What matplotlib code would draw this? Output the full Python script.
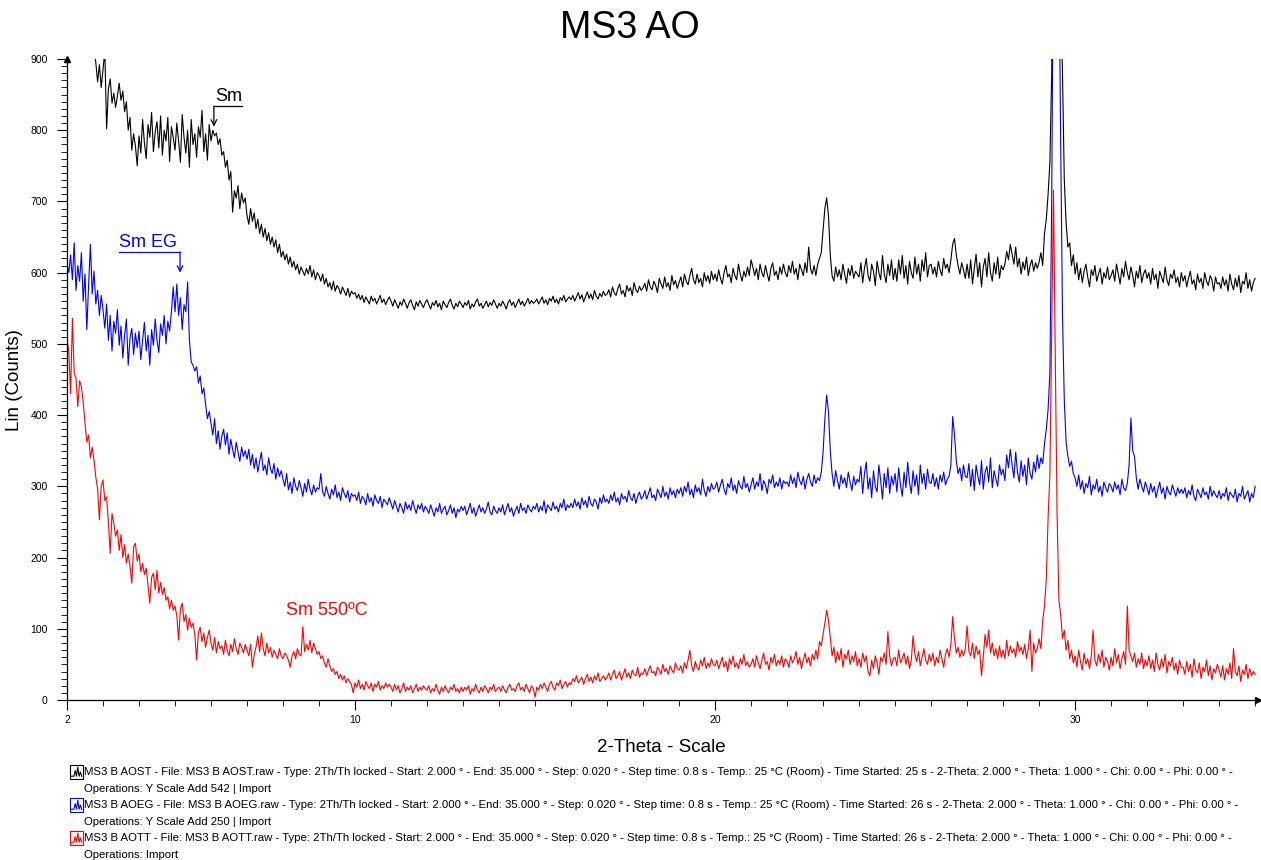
import matplotlib
matplotlib.use("Agg")

import matplotlib.pyplot as plt
import matplotlib.patches as mpatches
from matplotlib.lines import Line2D
import numpy as np

plt.rcParams["font.family"] = ["Liberation Sans", "DejaVu Sans"]

# ── Scan grid (values every 0.05 deg 2-theta) ──────────────────────────────────
TWO_THETA_START = 2.0
TWO_THETA_STEP = 0.05

# MS3 B AOST (already shifted: Y Scale Add 542), one row per degree
AOST = [
    1020, 1005, 1012, 990, 998, 985, 992, 970, 978, 962, 968, 955, 948, 940, 932, 918, 895, 868, 892, 860,  # 2
    885, 912, 802, 858, 872, 838, 852, 832, 848, 866, 842, 855, 826, 840, 800, 818, 772, 795, 778, 750,     # 3
    792, 768, 815, 782, 760, 808, 790, 825, 770, 798, 812, 775, 820, 765, 800, 785, 818, 756, 805, 790,     # 4
    772, 810, 785, 755, 822, 790, 768, 800, 748, 815, 780, 795, 762, 805, 790, 828, 770, 795, 758, 808,     # 5
    785, 800, 792, 796, 780, 788, 765, 770, 748, 758, 730, 742, 685, 715, 705, 722, 690, 712, 698, 705,     # 6
    680, 668, 690, 672, 684, 662, 675, 655, 668, 650, 662, 645, 656, 640, 650, 636, 646, 628, 640, 622,     # 7
    630, 618, 626, 612, 622, 608, 616, 604, 612, 598, 608, 602, 596, 606, 598, 610, 594, 604, 590, 600,     # 8
    596, 588, 598, 584, 592, 580, 586, 576, 588, 574, 582, 578, 570, 580, 574, 568, 578, 566, 574, 570,     # 9
    572, 564, 570, 562, 568, 558, 566, 561, 556, 567, 560, 564, 556, 562, 568, 558, 563, 555, 561, 566,     # 10
    560, 553, 562, 556, 550, 559, 554, 563, 557, 550, 558, 562, 554, 548, 559, 553, 561, 556, 551, 558,     # 11
    562, 555, 549, 558, 554, 561, 552, 557, 548, 560, 555, 551, 558, 563, 554, 549, 557, 552, 560, 556,     # 12
    551, 558, 554, 561, 549, 556, 552, 559, 563, 553, 557, 550, 555, 560, 552, 558, 554, 562, 556, 550,     # 13
    557, 553, 560, 555, 549, 558, 562, 554, 559, 551, 557, 563, 555, 560, 553, 558, 564, 556, 561, 557,     # 14
    559, 563, 556, 561, 566, 557, 562, 555, 564, 560, 567, 558, 563, 556, 565, 561, 568, 559, 563, 566,     # 15
    562, 568, 560, 566, 572, 563, 569, 559, 566, 573, 564, 570, 562, 575, 567, 563, 571, 566, 574, 568,     # 16
    570, 576, 566, 580, 572, 568, 578, 584, 570, 575, 566, 582, 574, 579, 568, 586, 576, 572, 581, 575,     # 17
    579, 585, 574, 590, 580, 576, 588, 582, 572, 592, 584, 578, 594, 580, 586, 575, 596, 583, 589, 578,     # 18
    586, 594, 580, 598, 588, 583, 596, 606, 590, 584, 598, 586, 592, 580, 600, 588, 596, 585, 602, 590,     # 19
    598, 588, 604, 592, 584, 600, 610, 594, 598, 586, 606, 596, 590, 612, 598, 588, 602, 594, 608, 596,     # 20
    618, 608, 596, 606, 590, 612, 600, 594, 610, 598, 588, 606, 614, 596, 602, 590, 608, 598, 612, 600,     # 21
    594, 610, 600, 616, 598, 606, 590, 612, 604, 596, 614, 600, 636, 606, 598, 610, 596, 612, 620, 628,     # 22
    660, 690, 705, 680, 625, 596, 588, 608, 594, 604, 590, 612, 598, 585, 606, 596, 610, 592, 602, 598,     # 23
    594, 614, 586, 606, 620, 596, 588, 612, 602, 582, 616, 600, 590, 624, 598, 586, 612, 596, 618, 590,     # 24
    606, 588, 618, 598, 624, 592, 610, 584, 616, 600, 592, 622, 598, 612, 588, 618, 602, 628, 594, 610,     # 25
    612, 598, 608, 594, 616, 604, 596, 620, 606, 612, 600, 618, 640, 648, 625, 610, 598, 614, 604, 592,     # 26
    612, 592, 618, 584, 606, 626, 594, 614, 580, 608, 620, 594, 628, 600, 588, 614, 598, 622, 592, 610,     # 27
    604, 612, 630, 618, 640, 626, 612, 636, 608, 620, 598, 615, 604, 622, 596, 610, 618, 602, 614, 606,     # 28
    615, 628, 610, 655, 675, 710, 755, 880, 1150, 1300, 1250, 1100, 980, 880, 730, 670, 636, 642, 610, 625,  # 29
    598, 614, 590, 606, 586, 602, 612, 594, 580, 604, 596, 610, 588, 598, 606, 584, 600, 592, 608, 590,     # 30
    596, 604, 588, 612, 598, 584, 606, 594, 616, 600, 590, 608, 596, 580, 602, 592, 610, 586, 598, 604,     # 31
    592, 600, 584, 606, 590, 598, 578, 602, 594, 586, 608, 590, 582, 598, 592, 604, 586, 594, 580, 600,     # 32
    588, 596, 580, 592, 602, 584, 590, 576, 598, 586, 592, 578, 600, 588, 582, 596, 590, 574, 594, 584,     # 33
    586, 578, 594, 582, 590, 574, 598, 584, 576, 592, 580, 596, 572, 588, 584, 600, 578, 590, 574, 586,     # 34
    592,                                                                                                    # 35
]

# MS3 B AOEG (already shifted: Y Scale Add 250)
AOEG = [
    612, 600, 625, 590, 642, 575, 610, 588, 628, 560, 598, 520, 582, 640, 570, 602, 556, 575, 540, 568,     # 2
    548, 522, 556, 505, 540, 490, 532, 515, 548, 498, 525, 480, 512, 535, 470, 508, 522, 485, 515, 495,     # 3
    518, 478, 505, 530, 490, 512, 470, 520, 498, 535, 505, 488, 528, 512, 540, 500, 532, 518, 545, 580,     # 4
    545, 584, 540, 565, 520, 555, 545, 587, 505, 475, 470, 462, 468, 445, 455, 430, 438, 415, 395, 405,     # 5
    388, 372, 395, 360, 378, 352, 370, 380, 358, 375, 345, 366, 352, 340, 362, 348, 335, 355, 342, 350,     # 6
    338, 352, 330, 345, 325, 340, 320, 335, 348, 322, 330, 316, 340, 325, 318, 332, 310, 326, 314, 322,     # 7
    310, 300, 318, 295, 306, 290, 312, 300, 294, 308, 298, 286, 304, 292, 310, 296, 288, 302, 292, 298,     # 8
    296, 318, 292, 286, 300, 290, 282, 296, 288, 302, 284, 292, 280, 298, 290, 284, 294, 278, 290, 286,     # 9
    288, 280, 292, 276, 286, 282, 274, 290, 278, 284, 272, 288, 280, 276, 286, 270, 282, 278, 274, 284,     # 10
    276, 268, 280, 272, 264, 276, 270, 262, 278, 268, 274, 266, 280, 270, 262, 274, 268, 276, 264, 272,     # 11
    268, 262, 274, 266, 258, 270, 264, 276, 262, 268, 272, 260, 266, 274, 262, 270, 256, 268, 264, 272,     # 12
    266, 272, 260, 268, 276, 262, 270, 258, 266, 274, 264, 270, 262, 268, 278, 264, 260, 272, 266, 262,     # 13
    270, 264, 274, 260, 268, 276, 264, 270, 258, 266, 272, 262, 276, 266, 270, 262, 274, 268, 264, 272,     # 14
    268, 276, 264, 272, 266, 280, 262, 274, 270, 266, 278, 268, 272, 264, 276, 270, 282, 266, 274, 270,     # 15
    276, 270, 282, 272, 278, 268, 284, 274, 280, 270, 286, 276, 272, 282, 278, 268, 284, 276, 288, 278,     # 16
    282, 276, 288, 280, 292, 278, 284, 274, 290, 282, 286, 278, 294, 284, 280, 290, 276, 286, 292, 282,     # 17
    286, 294, 282, 290, 298, 284, 288, 280, 296, 290, 284, 300, 286, 292, 282, 298, 288, 294, 284, 296,     # 18
    290, 298, 286, 300, 292, 306, 288, 296, 284, 302, 292, 298, 288, 310, 294, 286, 300, 292, 304, 296,     # 19
    298, 306, 292, 302, 310, 296, 288, 304, 298, 312, 294, 302, 290, 308, 300, 296, 314, 298, 304, 292,     # 20
    302, 312, 296, 306, 300, 318, 294, 308, 302, 290, 310, 304, 316, 298, 306, 300, 312, 296, 308, 304,     # 21
    306, 300, 316, 304, 312, 298, 320, 308, 302, 314, 296, 310, 318, 306, 300, 316, 304, 312, 308, 320,     # 22
    348, 395, 428, 405, 350, 318, 300, 322, 308, 296, 316, 304, 312, 298, 320, 306, 294, 314, 302, 310,     # 23
    306, 328, 290, 318, 334, 296, 312, 284, 322, 300, 292, 330, 308, 282, 318, 298, 326, 290, 314, 302,     # 24
    318, 292, 326, 302, 286, 320, 298, 334, 306, 290, 322, 300, 316, 288, 330, 304, 318, 296, 324, 306,     # 25
    304, 318, 300, 312, 296, 316, 306, 320, 302, 310, 314, 330, 398, 372, 336, 318, 326, 308, 330, 314,     # 26
    312, 332, 300, 324, 294, 330, 314, 302, 336, 296, 320, 328, 306, 340, 298, 322, 310, 300, 330, 316,     # 27
    324, 308, 344, 326, 352, 330, 312, 348, 320, 306, 336, 314, 330, 302, 340, 318, 310, 334, 320, 344,     # 28
    325, 340, 332, 360, 380, 408, 460, 700, 1100, 1300, 1300, 1050, 780, 540, 420, 362, 342, 328, 335, 318,  # 29
    312, 300, 316, 296, 308, 290, 304, 298, 314, 288, 302, 296, 310, 292, 300, 286, 306, 298, 292, 304,     # 30
    300, 292, 306, 296, 302, 288, 310, 298, 294, 304, 330, 396, 350, 342, 312, 296, 310, 300, 292, 306,     # 31
    298, 288, 304, 292, 300, 284, 296, 306, 290, 298, 282, 300, 292, 288, 302, 294, 286, 298, 290, 296,     # 32
    290, 298, 284, 294, 288, 302, 286, 280, 296, 290, 284, 298, 288, 292, 282, 300, 286, 294, 288, 284,     # 33
    294, 282, 290, 286, 298, 280, 292, 288, 284, 296, 278, 290, 286, 300, 282, 288, 294, 278, 290, 284,     # 34
    300,                                                                                                    # 35
]

# MS3 B AOTT (no shift)
AOTT = [
    505, 490, 430, 536, 459, 452, 412, 448, 440, 418, 389, 362, 372, 340, 355, 337, 313, 296, 253, 300,     # 2
    309, 280, 285, 250, 206, 262, 248, 230, 239, 210, 232, 200, 218, 192, 205, 188, 164, 215, 220, 195,     # 3
    205, 180, 192, 176, 185, 160, 136, 172, 178, 155, 182, 150, 165, 148, 158, 140, 145, 128, 140, 126,     # 4
    132, 118, 84, 128, 136, 110, 120, 98, 115, 102, 108, 92, 56, 95, 102, 82, 94, 74, 88, 98,               # 5
    80, 70, 88, 66, 82, 72, 76, 64, 84, 70, 62, 78, 68, 86, 72, 64, 80, 74, 66, 78,                         # 6
    70, 62, 78, 46, 64, 74, 90, 68, 94, 72, 62, 80, 66, 74, 60, 70, 64, 58, 72, 62,                         # 7
    58, 66, 62, 56, 46, 62, 68, 58, 72, 64, 62, 103, 68, 78, 70, 84, 66, 80, 72, 64,                        # 8
    68, 58, 62, 52, 46, 58, 48, 40, 44, 36, 40, 30, 36, 28, 34, 24, 30, 26, 22, 10,                         # 9
    24, 18, 28, 16, 22, 14, 26, 20, 16, 24, 12, 22, 18, 26, 14, 20, 16, 24, 18, 22,                         # 10
    18, 12, 22, 14, 20, 10, 16, 24, 12, 18, 14, 20, 10, 16, 22, 12, 18, 14, 20, 16,                         # 11
    14, 20, 10, 16, 12, 22, 14, 8, 18, 12, 20, 14, 10, 18, 14, 22, 12, 16, 10, 18,                          # 12
    12, 18, 14, 20, 8, 16, 12, 22, 14, 10, 18, 12, 20, 16, 10, 18, 14, 22, 12, 16,                          # 13
    18, 12, 20, 14, 10, 18, 22, 14, 16, 12, 20, 24, 14, 18, 12, 22, 16, 10, 20, 16,                         # 14
    4, 18, 14, 22, 16, 24, 18, 12, 22, 26, 18, 14, 24, 20, 28, 16, 22, 26, 18, 24,                          # 15
    22, 30, 26, 34, 24, 28, 32, 22, 30, 36, 26, 32, 24, 34, 28, 38, 26, 30, 34, 28,                         # 16
    32, 38, 28, 36, 42, 30, 34, 40, 28, 36, 44, 32, 38, 30, 42, 36, 34, 46, 32, 38,                         # 17
    36, 44, 34, 42, 48, 38, 40, 34, 46, 42, 36, 50, 40, 44, 36, 48, 42, 38, 52, 44,                         # 18
    42, 48, 38, 52, 44, 56, 70, 48, 40, 54, 46, 42, 56, 48, 60, 44, 52, 46, 58, 50,                         # 19
    48, 56, 44, 52, 60, 46, 54, 40, 58, 50, 62, 46, 52, 44, 58, 50, 64, 48, 54, 46,                         # 20
    50, 58, 46, 62, 52, 44, 56, 66, 50, 54, 42, 60, 52, 64, 48, 56, 50, 62, 46, 58,                         # 21
    54, 46, 62, 52, 58, 68, 50, 60, 44, 56, 66, 52, 60, 48, 64, 56, 70, 58, 82, 76,                         # 22
    92, 108, 126, 112, 88, 62, 74, 52, 68, 56, 72, 46, 64, 58, 70, 50, 62, 54, 68, 48,                      # 23
    58, 46, 66, 54, 62, 40, 34, 56, 44, 62, 52, 36, 60, 54, 66, 50, 96, 62, 48, 58,                         # 24
    60, 48, 70, 52, 58, 66, 50, 62, 44, 56, 90, 64, 54, 68, 48, 60, 72, 56, 50, 64,                         # 25
    54, 66, 48, 60, 52, 70, 58, 46, 64, 72, 60, 78, 117, 86, 66, 74, 60, 70, 62, 72,                        # 26
    104, 68, 62, 80, 58, 76, 64, 70, 34, 60, 92, 74, 98, 66, 80, 62, 72, 58, 76, 60,                        # 27
    70, 58, 84, 62, 76, 66, 72, 60, 82, 68, 74, 64, 78, 58, 72, 98, 40, 80, 66, 72,                         # 28
    86, 72, 112, 132, 170, 256, 317, 520, 716, 480, 260, 140, 120, 86, 98, 70, 84, 58, 70, 52,              # 29
    62, 46, 70, 54, 42, 66, 50, 58, 44, 62, 98, 56, 48, 64, 52, 70, 46, 60, 54, 42,                         # 30
    60, 48, 72, 52, 64, 44, 58, 68, 50, 132, 70, 62, 54, 66, 46, 58, 50, 66, 44, 56,                        # 31
    48, 62, 44, 56, 40, 66, 50, 42, 58, 46, 64, 38, 54, 48, 60, 42, 52, 36, 56, 46,                         # 32
    46, 36, 54, 40, 50, 32, 58, 42, 38, 52, 30, 46, 40, 56, 34, 48, 28, 44, 38, 50,                         # 33
    42, 32, 48, 28, 44, 36, 52, 30, 72, 40, 34, 48, 26, 42, 36, 50, 30, 44, 34, 40,                         # 34
    36,                                                                                                     # 35
]

SERIES_COLORS = ["black", "#0000FF", "#FF0000"]

LEGEND_LINES = [
    ("MS3 B AOST - File: MS3 B AOST.raw - Type: 2Th/Th locked - Start: 2.000 \u00b0 - End: 35.000 \u00b0 - "
     "Step: 0.020 \u00b0 - Step time: 0.8 s - Temp.: 25 \u00b0C (Room) - Time Started: 25 s - "
     "2-Theta: 2.000 \u00b0 - Theta: 1.000 \u00b0 - Chi: 0.00 \u00b0 - Phi: 0.00 \u00b0 -",
     "Operations: Y Scale Add 542 | Import"),
    ("MS3 B AOEG - File: MS3 B AOEG.raw - Type: 2Th/Th locked - Start: 2.000 \u00b0 - End: 35.000 \u00b0 - "
     "Step: 0.020 \u00b0 - Step time: 0.8 s - Temp.: 25 \u00b0C (Room) - Time Started: 26 s - "
     "2-Theta: 2.000 \u00b0 - Theta: 1.000 \u00b0 - Chi: 0.00 \u00b0 - Phi: 0.00 \u00b0 -",
     "Operations: Y Scale Add 250 | Import"),
    ("MS3 B AOTT - File: MS3 B AOTT.raw - Type: 2Th/Th locked - Start: 2.000 \u00b0 - End: 35.000 \u00b0 - "
     "Step: 0.020 \u00b0 - Step time: 0.8 s - Temp.: 25 \u00b0C (Room) - Time Started: 26 s - "
     "2-Theta: 2.000 \u00b0 - Theta: 1.000 \u00b0 - Chi: 0.00 \u00b0 - Phi: 0.00 \u00b0 -",
     "Operations: Import"),
]

W, H = 1261, 860


def fx(px):
    return px / W


def fy(py):
    return 1 - py / H


fig = plt.figure(figsize=(W / 100, H / 100), dpi=100)
ax = fig.add_axes([fx(67), fy(700), fx(1258) - fx(67), fy(59) - fy(700)])

for counts, color in zip([AOST, AOEG, AOTT], SERIES_COLORS):
    two_theta = TWO_THETA_START + TWO_THETA_STEP * np.arange(len(counts))
    ax.plot(two_theta, counts, color=color, lw=0.8)

ax.set_xlim(2, 35.08)
ax.set_ylim(0, 900)

# Axis style: only left/bottom, with arrow heads
for side in ("top", "right"):
    ax.spines[side].set_visible(False)
for side in ("left", "bottom"):
    ax.spines[side].set_linewidth(0.9)
ax.plot(1, 0, ">", color="black", ms=4, transform=ax.transAxes, clip_on=False)
ax.plot(0, 1, "^", color="black", ms=4, transform=ax.transAxes, clip_on=False)

ax.set_xticks([2, 10, 20, 30])
ax.set_xticks(np.arange(2, 36, 1), minor=True)
ax.set_yticks(np.arange(0, 901, 100))
ax.set_yticks(np.arange(0, 901, 10), minor=True)
ax.tick_params(axis="both", which="major", labelsize=7.5, width=0.8)
ax.tick_params(axis="y", which="major", length=7, pad=7)
ax.tick_params(axis="y", which="minor", length=4.5, width=0.6)
ax.tick_params(axis="x", which="major", length=7, pad=4)
ax.tick_params(axis="x", which="minor", length=4.5, width=0.6)

# Peak annotations
ax.plot([6.08, 6.86], [834, 834], color="black", lw=0.9)
ax.annotate("", xy=(6.08, 805), xytext=(6.08, 834),
            arrowprops=dict(arrowstyle="->", color="black", lw=0.9, shrinkA=0, shrinkB=0))
ax.text(6.12, 836, "Sm", color="black", fontsize=13, ha="left", va="bottom")

ax.plot([3.44, 5.14], [629, 629], color="#0000FF", lw=0.9)
ax.annotate("", xy=(5.14, 600), xytext=(5.14, 629),
            arrowprops=dict(arrowstyle="->", color="#0000FF", lw=0.9, shrinkA=0, shrinkB=0))
ax.text(3.44, 631, "Sm EG", color="#0000FF", fontsize=13, ha="left", va="bottom")

ax.text(9.22, 125, "Sm 550\u00baC", color="#FF0000", fontsize=13, ha="center", va="center")

# Titles
fig.text(fx(630), fy(28), "MS3 AO", fontsize=27, ha="center", va="center")
fig.text(fx(661), fy(748), "2-Theta - Scale", fontsize=13.5, ha="center", va="center")
fig.text(fx(15), fy(380), "Lin (Counts)", fontsize=13.5, rotation=90, ha="center", va="center")

# Scan info block below the plot
line_y = [772, 789, 805, 822, 838, 855]
for i, ((first, second), color) in enumerate(zip(LEGEND_LINES, SERIES_COLORS)):
    y1, y2 = line_y[2 * i], line_y[2 * i + 1]
    fig.text(fx(84), fy(y1), first, fontsize=8.2, ha="left", va="center")
    fig.text(fx(84), fy(y2), second, fontsize=8.2, ha="left", va="center")
    fig.patches.append(mpatches.Rectangle((fx(70), fy(y1 + 7)), fx(13), fy(0) - fy(14),
                                          transform=fig.transFigure, fill=False,
                                          edgecolor=color, lw=0.8))
    gx = [0.1, 0.3, 0.4, 0.5, 0.6, 0.7, 0.8, 0.9]
    gy = [0.2, 0.2, 0.6, 0.2, 0.85, 0.2, 0.5, 0.2]
    fig.lines.append(Line2D([fx(70 + 13 * g) for g in gx],
                            [fy(y1 + 7 - 14 * g) for g in gy],
                            transform=fig.transFigure, color=color, lw=0.8))

fig.savefig("out.png", dpi=100)
